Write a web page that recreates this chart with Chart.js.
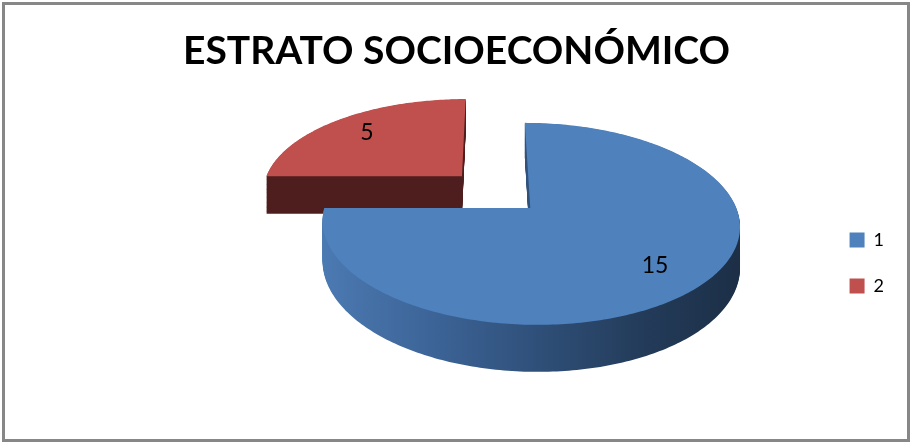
<!DOCTYPE html>
<html>
<head>
<meta charset="utf-8">
<title>Estrato socioeconómico</title>
<script src="https://cdn.jsdelivr.net/npm/chart.js@4.4.1/dist/chart.umd.min.js"></script>
<style>
    html, body { margin: 0; padding: 0; background: #fff; }
    #marco {
        position: absolute; left: 2px; top: 2px; width: 908px; height: 440px;
        box-sizing: border-box; border: 3px solid #878787;
    }
    #contenedor { position: absolute; left: 0; top: 0; width: 913px; height: 444px; }
</style>
</head>
<body>
<div id="marco"></div>
<div id="contenedor"><canvas id="estratoChart" width="913" height="444"></canvas></div>
<script>
// Datos del gráfico
const titulo = 'ESTRATO SOCIOECONÓMICO';
const estratos = ['1', '2'];
const personas = [15, 5];
const colores = ['#4f81bd', '#c0504d'];
const separacion = [0, 395];

// Colores de las caras laterales (degradado de izquierda a derecha)
const coloresLado = [
    ['#4b79b1', '#3d6599', '#30517b', '#243d5c', '#1c2f47'],
    ['#4e1d1d', '#4e1d1d']
];

// Geometría de la porción tal como la calculó Chart.js
function geometria(arc, o) {
    const d = (arc.options.offset || 0) / 4;
    const medio = (arc.startAngle + arc.endAngle) / 2;
    return {
        startAngle: arc.startAngle,
        endAngle: arc.endAngle,
        outerRadius: arc.outerRadius,
        cx: arc.x + o.desplazamiento.x,
        cy: arc.y + o.desplazamiento.y,
        u: Math.cos(medio) * d,
        v: Math.sin(medio) * d,
        medio: medio
    };
}

// Proyecta un punto del plano del pastel (u, v) con profundidad z
function proyectar(g, u, v, z, o) {
    const den = 1 - o.perspectiva * v / g.outerRadius;
    return {
        x: g.cx + o.fugaX + (u - o.fugaX) / den,
        y: g.cy + (o.inclinacion * v + z) / den
    };
}

function trazarPorcion(ctx, g, z, o) {
    const R = g.outerRadius;
    const pasos = Math.max(8, Math.ceil((g.endAngle - g.startAngle) * 60));
    ctx.beginPath();
    let p = proyectar(g, g.u, g.v, z, o);
    ctx.moveTo(p.x, p.y);
    for (let k = 0; k <= pasos; k++) {
        const a = g.startAngle + (g.endAngle - g.startAngle) * k / pasos;
        p = proyectar(g, g.u + Math.cos(a) * R, g.v + Math.sin(a) * R, z, o);
        ctx.lineTo(p.x, p.y);
    }
    ctx.closePath();
}

const pastel3D = {
    id: 'pastel3D',
    beforeDatasetsDraw(chart, args, o) {
        const ctx = chart.ctx;
        const porciones = chart.getDatasetMeta(0).data.map((arc, i) => ({ arc, i, g: geometria(arc, o) }));
        // primero las porciones del fondo
        porciones.sort((a, b) => a.g.v - b.g.v);

        ctx.save();
        porciones.forEach(({ arc, i, g }) => {
            const R = g.outerRadius;
            const grad = ctx.createLinearGradient(g.cx - R, 0, g.cx + R, 0);
            const stops = o.lados[i];
            stops.forEach((col, k) => grad.addColorStop(k / (stops.length - 1), col));
            ctx.fillStyle = grad;
            for (let z = o.grosor; z > 0; z -= 1) {
                trazarPorcion(ctx, g, z, o);
                ctx.fill();
            }
            ctx.fillStyle = arc.options.backgroundColor;
            trazarPorcion(ctx, g, 0, o);
            ctx.fill();
        });
        ctx.restore();
        return false;
    },
    afterDraw(chart, args, o) {
        const ctx = chart.ctx;
        const datos = chart.data.datasets[0].data;
        ctx.save();
        ctx.fillStyle = '#000';
        ctx.font = o.fuenteEtiquetas;
        ctx.textAlign = 'center';
        ctx.textBaseline = 'middle';
        chart.getDatasetMeta(0).data.forEach((arc, i) => {
            const g = geometria(arc, o);
            const r = g.outerRadius * o.posEtiqueta;
            const p = proyectar(g, g.u + Math.cos(g.medio) * r, g.v + Math.sin(g.medio) * r, 0, o);
            ctx.fillText(String(datos[i]), p.x, p.y);
        });
        ctx.restore();
    }
};

const ctx = document.getElementById('estratoChart').getContext('2d');
new Chart(ctx, {
    type: 'pie',
    data: {
        labels: estratos,
        datasets: [{
            data: personas,
            backgroundColor: colores,
            borderWidth: 0,
            offset: separacion,
            radius: 206,
            cutout: '0%'
        }]
    },
    options: {
        responsive: false,
        animation: false,
        events: [],
        layout: { padding: { left: 19, right: 19, top: 0, bottom: 0 } },
        plugins: {
            title: {
                display: true,
                text: titulo,
                color: '#000',
                font: { family: 'Lato', size: 39, weight: 'bold' },
                padding: { top: 28, bottom: 7 }
            },
            legend: {
                position: 'right',
                fullSize: false,
                labels: {
                    boxWidth: 15,
                    boxHeight: 15,
                    padding: 28,
                    color: '#000',
                    font: { family: 'Lato', size: 18 }
                }
            },
            tooltip: { enabled: false },
            pastel3D: {
                perspectiva: 0.158,
                inclinacion: 0.478,
                grosor: 39.6,
                fugaX: -40,
                desplazamiento: { x: 110, y: -55 },
                posEtiqueta: 0.76,
                lados: coloresLado,
                fuenteEtiquetas: '23px Lato'
            }
        }
    },
    plugins: [pastel3D]
});
</script>
</body>
</html>
